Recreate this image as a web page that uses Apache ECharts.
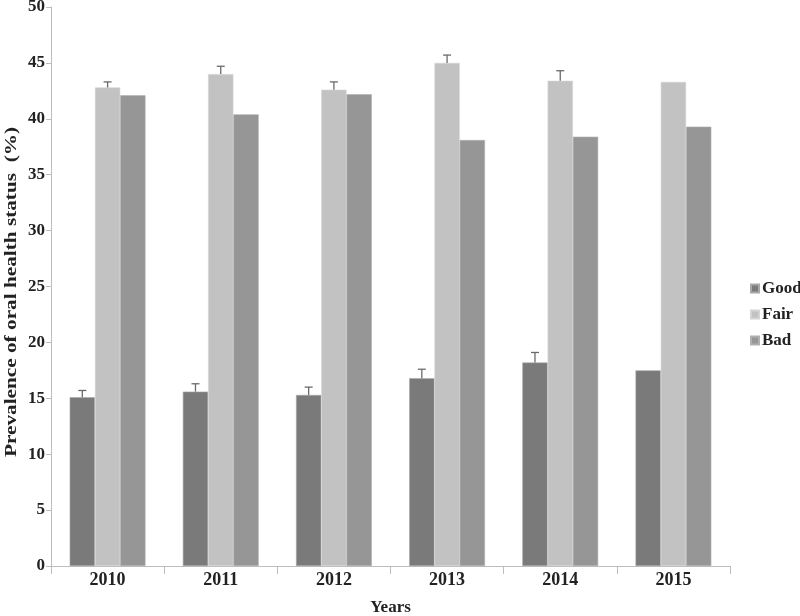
<!DOCTYPE html>
<html>
<head>
<meta charset="utf-8">
<script src="https://cdn.jsdelivr.net/npm/echarts@6/dist/echarts.min.js"></script>
<style>html,body{margin:0;padding:0;background:#fff}#c{width:800px;height:616px}</style>
</head>
<body>
<div id="c"></div>
<script>
const years = ['2010','2011','2012','2013','2014','2015'];
const good = [15.1, 15.6, 15.3, 16.8, 18.2, 17.5];
const fair = [42.8, 44.0, 42.6, 45.0, 43.4, 43.3];
const bad  = [42.1, 40.4, 42.2, 38.1, 38.4, 39.3];
const goodErrTop = [15.7, 16.3, 16.0, 17.6, 19.1, null];
const fairErrTop = [43.3, 44.7, 43.3, 45.7, 44.3, null];
const yTicks = [0,5,10,15,20,25,30,35,40,45,50];
const yName = 'Prevalence of oral health status  (%)';

const GAP = 0.33;
const font = '"Liberation Serif","Times New Roman",serif';

function errSeries(vals, tops, barIndex) {
  const data = years.map((y,i) => tops[i] == null ? null : [i, vals[i], tops[i]]).filter(d => d);
  return {
    type: 'custom',
    z: 5,
    silent: true,
    data: data,
    encode: {x: 0, y: [1, 2]},
    renderItem: function (params, api) {
      const idx = api.value(0);
      const base = api.coord([idx, api.value(1)]);
      const top = api.coord([idx, api.value(2)]);
      const band = api.size([1, 0])[0];
      const bw = band * (1 - GAP) / 3;
      const cx = base[0] + (barIndex - 1) * bw;
      const cap = 4;
      const style = {stroke: '#6a6a6a', lineWidth: 1.3};
      return {
        type: 'group',
        children: [
          {type: 'line', shape: {x1: cx, y1: base[1], x2: cx, y2: top[1]}, style: style},
          {type: 'line', shape: {x1: cx - cap, y1: top[1], x2: cx + cap, y2: top[1]}, style: style}
        ]
      };
    }
  };
}

const chart = echarts.init(document.getElementById('c'));
chart.setOption({
  animation: false,
  backgroundColor: '#fff',
  grid: {left: 51, right: 70, top: 7, bottom: 50, containLabel: false, outerBoundsMode: 'none'},
  graphic: [{
    type: 'text',
    x: 12,
    y: 292,
    rotation: Math.PI / 2,
    scaleX: 1.25,
    style: {
      text: yName,
      font: 'bold 17px ' + font,
      fill: '#222',
      align: 'center',
      verticalAlign: 'middle'
    }
  }],
  legend: {
    orient: 'vertical',
    left: 745,
    top: 275,
    itemWidth: 8,
    itemHeight: 8,
    itemGap: 9,
    icon: 'rect',
    data: ['Good', 'Fair', 'Bad'],
    textStyle: {fontFamily: font, fontWeight: 'bold', fontSize: 17, color: '#222', padding: [0,0,0,-2]}
  },
  xAxis: {
    type: 'category',
    data: years,
    name: 'Years',
    nameLocation: 'middle',
    nameGap: 33,
    nameTextStyle: {fontFamily: font, fontWeight: 'bold', fontSize: 17, color: '#222'},
    axisLine: {lineStyle: {color: '#bdbdbd'}},
    axisTick: {show: true, length: 8, lineStyle: {color: '#bdbdbd'}},
    axisLabel: {fontFamily: font, fontWeight: 'bold', fontSize: 18, color: '#222', margin: 5}
  },
  yAxis: {
    type: 'value',
    min: 0,
    max: 50,
    interval: 5,
    axisLine: {show: true, lineStyle: {color: '#bdbdbd'}},
    axisTick: {show: true, length: 5, lineStyle: {color: '#bdbdbd'}},
    splitLine: {show: false},
    axisLabel: {fontFamily: font, fontWeight: 'bold', fontSize: 17, color: '#222', margin: 6,
      formatter: v => yTicks.includes(v) ? String(v) : ''}
  },
  series: [
    {name: 'Good', type: 'bar', data: good, barGap: '0%', barCategoryGap: (GAP*100)+'%',
     itemStyle: {color: '#7a7a7a', borderColor: '#a8a8a8', borderWidth: 0.6}},
    {name: 'Fair', type: 'bar', data: fair,
     itemStyle: {color: '#c2c2c2', borderColor: '#d4d4d4', borderWidth: 0.6}},
    {name: 'Bad', type: 'bar', data: bad,
     itemStyle: {color: '#969696', borderColor: '#b0b0b0', borderWidth: 0.6}},
    errSeries(good, goodErrTop, 0),
    errSeries(fair, fairErrTop, 1)
  ]
});
</script>
</body>
</html>
